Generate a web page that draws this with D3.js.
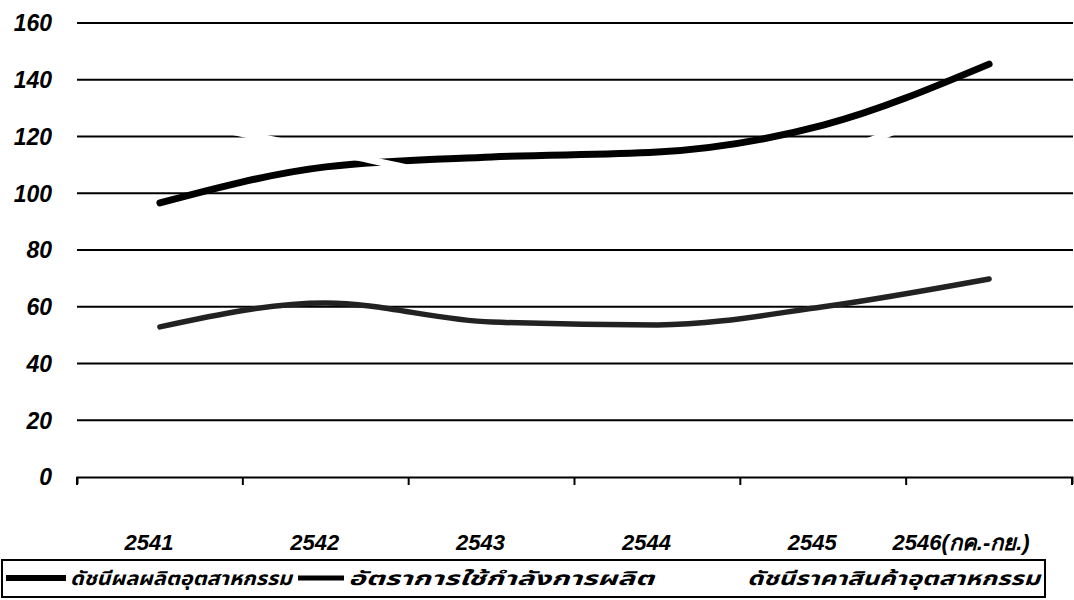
<!DOCTYPE html>
<html><head><meta charset="utf-8">
<script src="https://cdn.jsdelivr.net/npm/d3@7/dist/d3.min.js"></script>
<style>
html,body{margin:0;padding:0;background:#fff;}
svg{display:block;}
text{font-family:"Liberation Sans",Arial,sans-serif;font-weight:bold;font-style:italic;}
</style></head>
<body>
<svg id="c" width="1074" height="600"></svg>
<script>
const categories = ["2541","2542","2543","2544","2545","2546(กค.-กย.)"];
const seriesNames = ["ดัชนีผลผลิตอุตสาหกรรม","อัตราการใช้กำลังการผลิต","ดัชนีราคาสินค้าอุตสาหกรรม"];
const productionIndex = [96.6, 109.3, 112.8, 114.5, 124.0, 145.5];
const capacityRate = [52.9, 61.3, 54.6, 53.6, 60.0, 69.8];
const priceIndex = [127.5, 115, 105, 104, 113, 137];
const yTicks = [0,20,40,60,80,100,120,140,160];

const svg = d3.select("#c");
const x = d3.scaleBand().domain(categories).range([77,1072]);
const y = d3.scaleLinear().domain([0,160]).range([477,23]);
const cx = c => x(c) + x.bandwidth()/2;

// gridlines
svg.append("g").selectAll("line").data(yTicks.filter(d=>d>0)).join("line")
  .attr("x1",77).attr("x2",1073).attr("y1",d=>y(d)).attr("y2",d=>y(d))
  .attr("stroke","#000").attr("stroke-width",2);

// y labels
svg.append("g").selectAll("text").data(yTicks).join("text")
  .attr("x",52).attr("y",d=>y(d)).attr("dy","0.36em")
  .attr("text-anchor","end").attr("font-size",23).text(d=>d);

// x axis
const xAxis = d3.axisBottom(x).tickSize(7).tickSizeOuter(7).tickFormat("");
const gx = svg.append("g").attr("transform",`translate(0,${y(0)})`).call(xAxis);
gx.select(".domain").attr("stroke","#000").attr("stroke-width",2);
gx.selectAll(".tick").remove();
const bounds = categories.map(c=>x(c)).concat([x.range()[1]]);
gx.selectAll("line.b").data(bounds).join("line").attr("class","b")
  .attr("x1",d=>d).attr("x2",d=>d).attr("y1",0).attr("y2",8)
  .attr("stroke","#000").attr("stroke-width",2);
gx.selectAll("text.lab").data(categories).join("text").attr("class","lab")
  .attr("x",(d,i)=>cx(d) - (i===5?28:11)).attr("y",73)
  .attr("text-anchor","middle").attr("font-size",22).attr("fill","#000").text(d=>d);

// lines
const line = d3.line().x((d,i)=>cx(categories[i])).y(d=>y(d)).curve(d3.curveMonotoneX);
svg.append("path").datum(capacityRate).attr("d",line).attr("fill","none")
  .attr("stroke","#222").attr("stroke-width",5.5).attr("stroke-linecap","round");
svg.append("path").datum(productionIndex).attr("d",line).attr("fill","none")
  .attr("stroke","#000").attr("stroke-width",7).attr("stroke-linecap","round");
svg.append("path").datum(priceIndex).attr("d",line).attr("fill","none")
  .attr("stroke","#fff").attr("stroke-width",7);

// legend
const lg = svg.append("g");
lg.append("rect").attr("x",2).attr("y",560).attr("width",1043).attr("height",37)
  .attr("fill","none").attr("stroke","#000").attr("stroke-width",2);
const legendItems = [
  {x1:6,x2:66,tx:70,color:"#000",w:6,tw:222},
  {x1:298,x2:344,tx:348,color:"#000",w:5,tw:306},
  {x1:688,x2:742,tx:747,color:"#fff",w:6,tw:293}
];
legendItems.forEach((it,i)=>{
  lg.append("line").attr("x1",it.x1).attr("x2",it.x2).attr("y1",578).attr("y2",578)
    .attr("stroke",it.color).attr("stroke-width",it.w);
  lg.append("text").attr("x",it.tx).attr("y",585).attr("font-size",19)
    .attr("textLength",it.tw).attr("lengthAdjust","spacingAndGlyphs")
    .style("font-family","'Noto Sans Thai','Noto Sans','DejaVu Sans',sans-serif")
    .text(seriesNames[i]);
});
</script>
</body></html>
